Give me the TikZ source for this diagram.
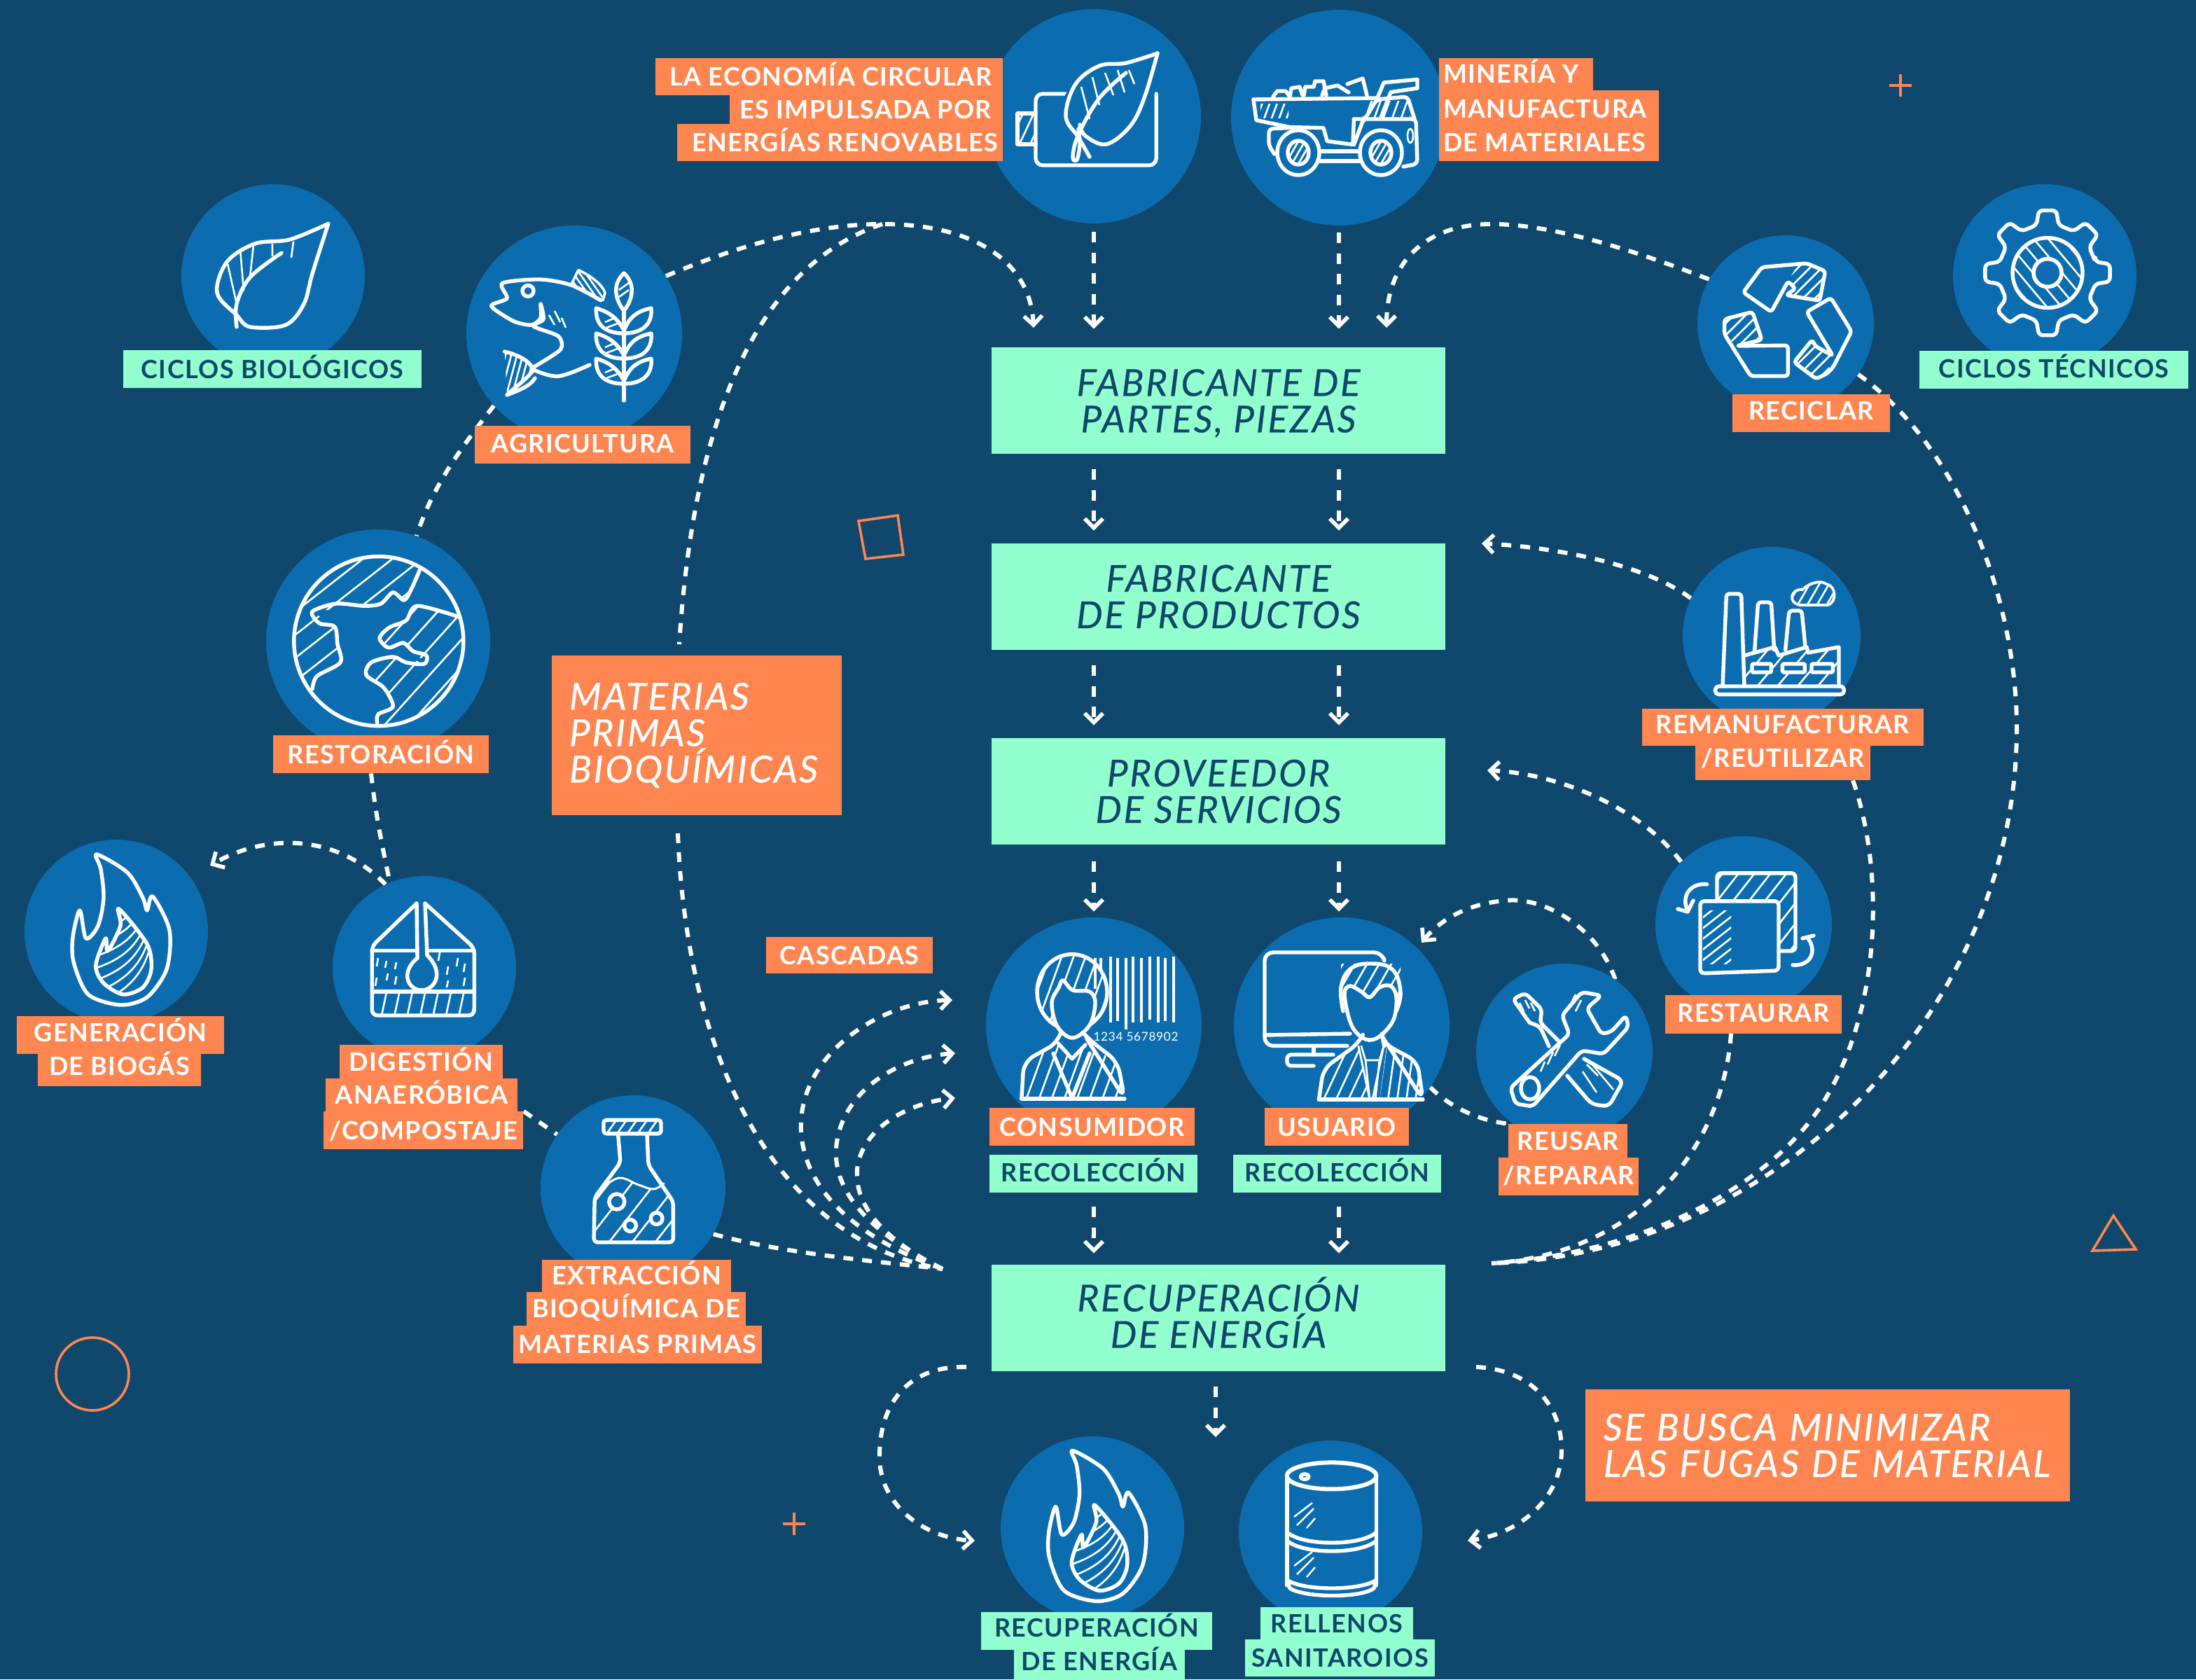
\documentclass[tikz,border=0pt]{standalone}
\usepackage{fontspec}
\usetikzlibrary{arrows.meta,calc}
\setmainfont{Lato}
\newfontfamily\labfont{Lato}[LetterSpace=4]
\newfontfamily\bigfont{Lato}[LetterSpace=5,ItalicFeatures={FakeBold=0.35}]
\definecolor{bgnavy}{HTML}{10476D}
\definecolor{blob}{HTML}{0B6DB0}
\definecolor{mint}{HTML}{92FFCF}
\definecolor{coral}{HTML}{FF8651}
\pgfdeclarelayer{bgl}\pgfdeclarelayer{conn}
\pgfsetlayers{bgl,conn,main}
\tikzset{
  blobnode/.style={circle,fill=blob,inner sep=0pt,minimum size=#1},
  olabel/.style={fill=coral,text=white,inner sep=0pt,text height=13pt,text depth=0pt,font=\labfont\bfseries\fontsize{18}{20}\selectfont},
  mlabel/.style={fill=mint,text=bgnavy,inner sep=0pt,text height=13pt,text depth=0pt,font=\labfont\bfseries\fontsize{18}{20}\selectfont},
  stagebox/.style={fill=mint,text=bgnavy,inner sep=0pt,minimum width=324,minimum height=76,align=center,font=\bigfont\itshape\fontsize{26.5}{26}\selectfont},
  notebox/.style={fill=coral,text=white,inner sep=0pt,align=left,font=\bigfont\itshape\fontsize{26.5}{26}\selectfont},
  flow/.style={white,line width=3,dash pattern=on 7pt off 6.5pt},
  flowtip/.style={flow,-{Straight Barb[length=6.5pt,width=13pt,line width=2.8pt]}},
  vflow/.style={white,line width=3,dash pattern=on 7.5pt off 7.2pt,-{Straight Barb[length=6.5pt,width=13pt,line width=2.8pt]}},
  ic/.style={white,line width=2.7,line join=round,line cap=round},
  hl/.style={white,line width=1.3},
  deco/.style={coral,line width=1.8},
}
\newcommand{\olab}[6]{\node[olabel,minimum width={#3-#2},minimum height={#5-#4}] (#1) at ({(#2+#3)/2},{(#4+#5)/2}) {#6};}
\newcommand{\mlab}[6]{\node[mlabel,minimum width={#3-#2},minimum height={#5-#4}] (#1) at ({(#2+#3)/2},{(#4+#5)/2}) {#6};}
\newcommand{\hatchin}[5]{\foreach \k in {-#5,...,#5}{\draw[hl,rotate around={#4:(#1,#2)}] ({#1-130},{#2+\k*#3}) -- ({#1+130},{#2+\k*#3});}}
\newcommand{\flameicon}[2]{%
\begin{scope}[shift={(#1,#2)}]
\draw[ic] plot[smooth cycle,tension=.5] coordinates {(69,610)(91,623)(102,641)(105,650)(109,640)(121,664)(119,692)(105,712)(86,717.5)(63,710)(52.6,687)(52,669)(57,650)(61.4,670)(70,661)(74,641)(72,620.6)};
\begin{scope}
\clip plot[smooth cycle,tension=.5] coordinates {(85,649)(105,674)(108,692)(102,705)(88,710)(74,702)(68.4,689.5)(75.4,670)(77,679)(86,661)};
\foreach \k in {0,9,...,54}{\draw[hl] ({60+\k*.1},{720-\k}) .. controls ({85+\k*.2},{712-\k}) and ({100},{700-\k}) .. ({106},{680-\k});}
\end{scope}
\draw[ic] plot[smooth cycle,tension=.5] coordinates {(85,649)(105,674)(108,692)(102,705)(88,710)(74,702)(68.4,689.5)(75.4,670)(77,679)(86,661)};
\end{scope}}
\begin{document}
\begin{tikzpicture}[x=1pt,y=-1pt]
\useasboundingbox (0,0) rectangle (1568,1199);
\begin{pgfonlayer}{bgl}
\fill[bgnavy] (0,0) rectangle (1568,1199);
\end{pgfonlayer}

% decorations
\draw[deco] (1349,61) -- (1365,61) (1357,53) -- (1357,69);
\draw[deco] (559,1088) -- (575,1088) (567,1080) -- (567,1096);
\draw[deco] (613,372) -- (641,368) -- (645,396) -- (618,399) -- cycle;
\draw[deco] (1494,893) -- (1509,868) -- (1525,892) -- cycle;
\draw[deco] (66,981) circle (26);

% circles
\node[blobnode=153] (renew) at (781,83) {};
\node[blobnode=154] (truck) at (956,84) {};
\node[blobnode=131] (bio) at (195,197) {};
\node[blobnode=154] (agri) at (410,238) {};
\node[blobnode=160] (rest) at (270,458) {};
\node[blobnode=131] (biog) at (83,665) {};
\node[blobnode=131] (dige) at (303,691) {};
\node[blobnode=132] (extr) at (452,848) {};
\node[blobnode=154] (cons) at (781,732) {};
\node[blobnode=154] (usua) at (958,732) {};
\node[blobnode=126] (reus) at (1117,751) {};
\node[blobnode=126] (rstr) at (1245,660) {};
\node[blobnode=127] (rema) at (1265,454) {};
\node[blobnode=126] (reci) at (1275,231) {};
\node[blobnode=131] (gear) at (1460,197) {};
\node[blobnode=131] (fire) at (780,1091) {};
\node[blobnode=131] (barr) at (950,1094) {};

% stage boxes
\node[stagebox] (fab) at (870,286) {\rule{0pt}{23pt}FABRICANTE DE\\PARTES, PIEZAS};
\node[stagebox] (prod) at (870,426) {FABRICANTE\\DE PRODUCTOS};
\node[stagebox] (serv) at (870,565) {PROVEEDOR\\DE SERVICIOS};
\node[stagebox] (recu) at (870,941) {RECUPERACIÓN\\DE ENERGÍA\rule[-8pt]{0pt}{8pt}};
\node[notebox,minimum width=207,minimum height=114,text width=182] (mat) at (497.5,525) {MATERIAS\\PRIMAS\\BIOQUÍMICAS};
\node[notebox,minimum width=346,minimum height=80,text width=320] (fuga) at (1305,1032) {SE BUSCA MINIMIZAR\\LAS FUGAS DE MATERIAL};

% labels
\olab{eco1}{468}{716}{41.5}{68}{\makebox[248pt][r]{LA ECONOMÍA CIRCULAR\hspace{8pt}}}
\olab{eco2}{521}{716}{68}{88.5}{\makebox[195pt][r]{ES IMPULSADA POR\hspace{8pt}}}
\olab{eco3}{483.5}{716}{88.5}{115}{\makebox[232pt][r]{ENERGÍAS RENOVABLES\hspace{3pt}}}
\olab{min1}{1027.5}{1137.6}{41.5}{64.5}{\makebox[110pt][l]{\hspace{3pt}MINERÍA Y}}
\olab{min2}{1027.5}{1184.5}{64.5}{88.5}{\raisebox{-1.5pt}{\makebox[157pt][l]{\hspace{3pt}MANUFACTURA}}}
\olab{min3}{1027.5}{1184.5}{88.5}{115}{\makebox[157pt][l]{\hspace{3pt}DE MATERIALES}}
\mlab{cbio}{88}{301}{250}{277}{CICLOS BIOLÓGICOS}
\olab{lagr}{339}{493}{304}{331}{\raisebox{1pt}{AGRICULTURA}}
\olab{lres}{195}{349}{525}{552}{RESTORACIÓN}
\olab{gen1}{12}{160}{725.5}{752.5}{\raisebox{2pt}{GENERACIÓN}}
\olab{gen2}{27}{143.5}{752.5}{775.5}{\raisebox{3pt}{DE BIOGÁS}}
\olab{dig1}{242.5}{359}{746}{770}{DIGESTIÓN}
\olab{dig2}{232.6}{369.5}{770}{793.6}{ANAERÓBICA}
\olab{dig3}{231}{373.7}{793.6}{820.4}{/COMPOSTAJE}
\olab{ext1}{387}{522}{899.4}{922.4}{EXTRACCIÓN}
\olab{ext2}{376}{532.6}{922.4}{946.4}{BIOQUÍMICA DE}
\olab{ext3}{366.7}{544}{946.4}{973.4}{MATERIAS PRIMAS}
\olab{casc}{547}{666}{669}{695}{CASCADAS}
\olab{lcon}{706.6}{853}{791}{818}{CONSUMIDOR}
\olab{lusu}{903}{1006}{791}{818}{USUARIO}
\mlab{rec1}{706.6}{855}{824.5}{851.5}{\raisebox{1pt}{RECOLECCIÓN}}
\mlab{rec2}{880.6}{1029}{824.5}{851.5}{\raisebox{1pt}{RECOLECCIÓN}}
\olab{reu1}{1077}{1162}{802.5}{826.5}{REUSAR}
\olab{reu2}{1070}{1170}{826.5}{853.5}{\raisebox{1pt}{/REPARAR}}
\olab{lrst}{1189}{1315}{710.7}{737.8}{\raisebox{1pt}{RESTAURAR}}
\olab{rem1}{1172.4}{1373.5}{505.8}{532.5}{\raisebox{2pt}{REMANUFACTURAR}}
\olab{rem2}{1210.5}{1335.6}{532.5}{557}{\raisebox{3.5pt}{/REUTILIZAR}}
\olab{lrec}{1237}{1349.5}{281.7}{308.4}{\raisebox{2pt}{RECICLAR}}
\mlab{ctec}{1370.5}{1562.5}{250.6}{277.7}{\raisebox{1pt}{CICLOS TÉCNICOS}}
\mlab{ene1}{700.4}{865.6}{1151}{1178}{\raisebox{2.5pt}{RECUPERACIÓN}}
\mlab{ene2}{724}{846}{1178}{1204}{\raisebox{5pt}{DE ENERGÍA}}
\mlab{rel1}{900}{1009}{1147.5}{1170.5}{RELLENOS}
\mlab{rel2}{889}{1024.4}{1170.5}{1197}{SANITAROIOS}

% connectors
\coordinate (xl) at (781,0);
\coordinate (xr) at (956,0);
\coordinate (xm) at (868,0);
\coordinate (hubL) at (673,906);
\coordinate (hubR) at (1065,902);
\coordinate (topL) at (630,160);
\coordinate (topR) at (1065,160);
\coordinate (tipA) at (738,234);
\coordinate (tipB) at (990,234);
\coordinate (tipP) at (1058,388);
\coordinate (tipS) at (1062,550);
\coordinate (tipU) at (1015,673);
\coordinate (tipG) at (150,618);
\coordinate (tipC1) at (680,714);
\coordinate (tipC2) at (682,752);
\coordinate (tipC3) at (682,784);
\coordinate (matT) at (485,460);
\coordinate (matB) at (484,595);
\coordinate (ene1Tip) at (696,1100);
\coordinate (ene2Tip) at (1048,1100);
\begin{pgfonlayer}{conn}
\draw[vflow,shorten <=6,shorten >=13] (renew.south) -- (fab.north -| xl);
\draw[vflow,shorten <=5,shorten >=13] (truck.south) -- (fab.north -| xr);
\draw[vflow,shorten <=11,shorten >=9] (fab.south -| xl) -- (prod.north -| xl);
\draw[vflow,shorten <=11,shorten >=9] (fab.south -| xr) -- (prod.north -| xr);
\draw[vflow,shorten <=11,shorten >=9] (prod.south -| xl) -- (serv.north -| xl);
\draw[vflow,shorten <=11,shorten >=9] (prod.south -| xr) -- (serv.north -| xr);
\draw[vflow,shorten <=12,shorten >=4] (serv.south -| xl) -- (cons.north);
\draw[vflow,shorten <=12,shorten >=4] (serv.south -| xr) -- (usua.north -| xr);
\draw[vflow,shorten <=10,shorten >=8] (rec1.south -| xl) -- (recu.north -| xl);
\draw[vflow,shorten <=10,shorten >=8] (rec2.south -| xr) -- (recu.north -| xr);
\draw[vflow,shorten <=11,shorten >=3] (recu.south -| xm) -- (868,1029);
\draw[flowtip] (agri.32) .. controls (540,170) and (590,160) .. (topL) .. controls (700,160) and (736,190) .. (tipA);
\draw[flow] (topL) .. controls (540,190) and (495,300) .. (matT);
\draw[flow] (matB) .. controls (490,750) and (550,885) .. (hubL);
\draw[flowtip] (reci.150) .. controls (1170,180) and (1110,160) .. (topR) .. controls (1015,160) and (990,190) .. (tipB);
\draw[flowtip] (rema.155) .. controls (1170,400) and (1100,390) .. (tipP);
\draw[flowtip] (rstr.135) .. controls (1170,575) and (1110,552) .. (tipS);
\draw[flowtip] (reus.55) .. controls (1140,660) and (1100,640) .. (1075,643) .. controls (1050,645) and (1030,655) .. (tipU);
\draw[flow] (usua.-35) .. controls (1035,790) and (1055,800) .. (reu1.north west);
\draw[flow] (reci.-35) .. controls (1400,320) and (1440,430) .. (1440,520) .. controls (1440,720) and (1270,895) .. (hubR);
\draw[flow] (rem2.south -| 1323,0) .. controls (1345,620) and (1345,720) .. (1300,790) .. controls (1260,850) and (1170,895) .. (hubR);
\draw[flow] (lrst.south -| 1236,0) .. controls (1230,820) and (1170,895) .. (hubR);
\draw[flow] (agri.-138) .. controls (325,325) and (308,350) .. (rest.70);
\draw[flow] (lres.south -| 265,0) .. controls (268,580) and (272,600) .. (dige.112);
\draw[flowtip] (dige.115) .. controls (240,595) and (190,595) .. (tipG);
\draw[flow] (dig3.north east) -- (extr.145);
\draw[flow] (extr.-30) .. controls (560,895) and (620,900) .. (hubL);
\draw[flowtip] (hubL) .. controls (600,880) and (570,840) .. (572,800) .. controls (575,750) and (630,715) .. (tipC1);
\draw[flowtip] (hubL) .. controls (620,880) and (595,850) .. (597,820) .. controls (600,780) and (640,755) .. (tipC2);
\draw[flowtip] (hubL) .. controls (630,885) and (610,860) .. (612,835) .. controls (615,805) and (650,787) .. (tipC3);
\draw[flowtip] (690,976) .. controls (650,975) and (628,1000) .. (628,1040) .. controls (628,1075) and (660,1098) .. (ene1Tip);
\draw[flowtip] (1054,976) .. controls (1095,978) and (1115,1005) .. (1115,1035) .. controls (1115,1070) and (1085,1095) .. (ene2Tip);
\end{pgfonlayer}

% --- icons ---
% renewable
\draw[ic,rounded corners=5] (761,67) -- (739.5,67) -- (739.5,118) -- (825.6,118) -- (825.6,67);
\draw[ic] (739.5,81) -- (726.5,81) -- (726.5,103) -- (739.5,103);
\begin{scope}\clip (726.5,81) rectangle (739.5,103); \hatchin{733}{92}{7}{65}{4} \end{scope}
\path[fill=blob] plot[smooth,tension=.6] coordinates {(826.5,38)(785,47)(761,67)(761,83)(770,98)(790,103)(809,90)(823,67)(826.5,38)};
\draw[ic] plot[smooth,tension=.6] coordinates {(826.5,38)(804,45)(785,47)(768,60)(761,83)(770,98)(778,112)};
\draw[ic] plot[smooth,tension=.6] coordinates {(771,89)(775,97)(790,103)(807,90)(817,70)(826.5,38)};
\draw[ic] plot[smooth,tension=.6] coordinates {(804,52)(785,70)(770,96)(766,112)(769,114)(771,103)(770,92)};
\draw[hl] (772,62) -- (778,85) (780,55) -- (785,75) (789,52) -- (795,68) (798,50) -- (803,66) (806,50) -- (810,60);
% truck
\draw[ic] (895,71) -- (983.5,70) -- (988,59) -- (1012,56.7) -- (1012,63) -- (993,65.8) -- (986,84);
\draw[ic] (895,71) -- (897,85.8) -- (921,90.8) -- (945,91.3) -- (947.6,100.8) -- (966.7,103.3) -- (974,84);
\draw[ic] (909,69) -- (912,65) -- (918,65) -- (921,69) (921,69) -- (922,63) -- (928,62) -- (930,68) (931,68) -- (932,62) -- (938,62) -- (939,58) -- (945,58) -- (946,63) -- (944,68) (947,68) -- (946,63) -- (955,61) -- (963,66) (962,60) -- (973,56) -- (976,68);
\draw[ic,rounded corners=3] (974,86) -- (983,71) -- (1005,69) -- (1010,85);
\draw[ic,rounded corners=3] (966.7,85) -- (1011,85) -- (1012,117) -- (1002,119);
\draw[ic] (966.7,85) -- (966,103);
\begin{scope}\clip (976,72) rectangle (1007,84); \hatchin{990}{78}{6}{70}{5} \end{scope}
\begin{scope}\clip (900,74) rectangle (920,84); \hatchin{910}{79}{5}{70}{5} \end{scope}
\draw[ic,rounded corners=3] (925,91) -- (906,92) -- (906,104) -- (910,110);
\draw[ic] (942,108) -- (971,108) (942,115) -- (971,115);
\foreach \c in {927,986}{
\draw[ic,fill=blob] (\c,109) ellipse (15 and 16);
\begin{scope}\clip (\c,109) ellipse (7.5 and 8.5); \hatchin{\c}{109}{4}{60}{4} \end{scope}
\draw[ic] (\c,109) ellipse (7.5 and 8.5);}
\draw[hl] (1007,97) ellipse (2 and 5);
% leaf bio
\draw[ic] plot[smooth,tension=.55] coordinates {(234.4,159.7)(207,171)(182,174)(162,187)(155,209)(169,225)(178.6,233.4)(204,232)(217,217)(223,195.5)(234.4,159.7)};
\draw[ic] plot[smooth,tension=.6] coordinates {(201,180.6)(178.6,198)(169,217)(169,233.4)};
\draw[hl,line width=1.3] (162.6,188.7) -- (169,217) (171.6,179) -- (174,207.6) (181,175) -- (178.6,197) (194.5,174) -- (194.5,183) (209.5,172.4) -- (208,184);
% fish
\draw[ic] plot[smooth,tension=.45] coordinates {(429,214.4)(408,203.6)(385.8,199.5)(358.7,202.2)(362,213)(350.8,218.5)(366.7,229.3)(379.5,232)(386,227)(386,217)(388,228)(381,233)(398.6,240)(400,249.7)(379.5,263)};
\draw[ic] (377,207.7) circle (4);
\draw[ic] (360.3,251) .. controls (372,254) and (378,258) .. (381,264) .. controls (375,272) and (368,276) .. (362,282) .. controls (372,278) and (378,276) .. (382,270);
\begin{scope}\clip (360.3,251) .. controls (372,254) and (378,258) .. (381,264) .. controls (375,272) and (368,276) .. (362,282) -- cycle; \hatchin{370}{266}{4}{75}{6} \end{scope}
\draw[ic] plot[smooth,tension=.6] coordinates {(381,264)(398.6,268.6)(421,260.5)};
\begin{scope}\clip (408,202) -- (413,192.8) .. controls (422,197) and (430,203) .. (432,209) -- (430.5,214.4) -- cycle; \hatchin{420}{204}{3.6}{-55}{6} \end{scope}
\draw[ic,line width=1.8] (408,203) -- (413,192.8) .. controls (422,197) and (430,203) .. (432,209) -- (430.5,214.4);
\draw[hl] (392,225) -- (396,232) (396,222) -- (400,230) (401,227) -- (404,234);
\draw[ic] (445.5,286) -- (445.5,222);
\draw[ic,fill=blob] (445.5,195) .. controls (438,202) and (438,212) .. (445.5,222) .. controls (453,212) and (453,202) .. (445.5,195) -- cycle;
\draw[hl] (442,212) -- (449,207) (442,207) -- (449,202);
\foreach \d in {0,18,36}{
\draw[ic] (445.5,{236+\d}) .. controls (440,{225+\d}) and (432,{222+\d}) .. (425.7,{220+\d}) .. controls (425,{232+\d}) and (432,{238+\d}) .. (445.5,{238+\d}) .. controls (458,{238+\d}) and (466,{232+\d}) .. (465,{220+\d}) .. controls (456,{222+\d}) and (450,{225+\d}) .. (445.5,{236+\d});
\draw[hl] (432,{230+\d}) -- (439,{227+\d}) (433,{234+\d}) -- (441,{231+\d});}
% globe
\begin{scope}
\clip (270.4,457.8) circle (60.5);
\begin{scope}\clip (205,380) -- (340,380) -- (299.7,407) -- (288.6,428.5) -- (280.6,423) -- (260,432.6) -- (223,436.7) -- (239,447.5) -- (242,472) -- (226.4,482.7) -- (223,492) -- (205,500) -- cycle;
\hatchin{270}{440}{13}{38}{9}\end{scope}
\begin{scope}\clip (328.4,440.7) -- (298,432.6) -- (284,445) -- (271,455.6) -- (277.4,462.4) -- (288.6,461) -- (304.5,473) -- (280.6,469) -- (261.5,478.6) -- (274,491) -- (280.6,504.4) -- (269.4,516.6) -- (340,520) -- (340,440) -- cycle;
\hatchin{300}{470}{13}{48}{8}\end{scope}
\end{scope}
\draw[ic] (270.4,457.8) circle (60.5);
\draw[ic] plot[smooth,tension=.5] coordinates {(299.7,407)(294,420)(288.6,428.5)(280.6,423)(272,431)(260,432.6)(240,431)(223,436.7)(228,445)(239,447.5)(241,460)(243,473)(226.4,482.7)(223,492)};
\draw[ic] plot[smooth,tension=.5] coordinates {(328.4,440.7)(298,432.6)(290,443)(278,448)(271,455.6)(277.4,462.4)(288,459)(295,465)(304.5,468)(303,474)(290,473)(280.6,469)(265,473)(261.5,482)(274,491)(280.6,504.4)(270,510)(269.4,516.6)};
% flames
\flameicon{0}{0}
\flameicon{696.8}{425.7}
% digest
\draw[ic,rounded corners=4] (297.5,645) -- (265.6,675.5) -- (265.6,725) -- (338.6,725) -- (338.6,676.7) -- (303.5,645);
\draw[ic] (265.6,678.8) -- (296,678.8) (307,678.8) -- (338.6,678.8);
\draw[ic] (265.6,708) -- (338.6,708);
\draw[ic] (297.5,645) -- (298,684);
\draw[ic] (303.5,645) -- (305,682);
\draw[ic] (298,684) .. controls (285,695) and (292,707) .. (301,707) .. controls (310,707) and (318,695) .. (305,682);
\begin{scope}\clip (265.6,708) rectangle (338.6,725); \hatchin{302}{716}{9}{78}{9} \end{scope}
\draw[hl] (270,684) -- (269,690) (276,686) -- (275,691) (283,687) -- (282,692) (269,698) -- (268,704) (277,695) -- (276,700) (283,697) -- (282,703) (314,680) -- (313,686) (327,684) -- (326,690) (332,688) -- (331,694) (320,690) -- (319,696) (320,700) -- (319,705) (332,698) -- (331,704);
% flask
\draw[ic,rounded corners=2] (431,799.7) rectangle (472,809.4);
\begin{scope}\clip (431,799.7) rectangle (472,809.4); \hatchin{451}{805}{6}{55}{5} \end{scope}
\draw[ic,rounded corners=3] (441.4,810.7) -- (443,830) -- (424.6,855) -- (424,887) -- (480.7,887) -- (480.7,858) -- (463,832) -- (462,810.7);
\draw[ic,line width=1.5] plot[smooth,tension=.6] coordinates {(429,849)(442,841)(456,846)(466.7,849)(474,845)};
\begin{scope}\clip (428,849) -- (442,841) -- (466.7,849) -- (474,845) -- (480.7,858) -- (480.7,887) -- (424,887) -- (424.6,855) -- cycle; \hatchin{452}{865}{13}{52}{5} \end{scope}
\draw[ic,fill=blob] (440.4,858) circle (5.5) (450,875) circle (4.2) (468.8,870) circle (4.2);
% consumer
\begin{scope}\clip (765.5,708.3) ellipse (25 and 27); \hatchin{766}{708}{8}{70}{6} \end{scope}
\draw[ic] (765.5,708.3) ellipse (25 and 27);
\draw[ic,fill=blob] plot[smooth cycle,tension=.6] coordinates {(751,716)(756,705)(759,700)(766,707)(778,708)(782,716)(778,732)(766,741)(755,733)};
\draw[ic,fill=blob,rounded corners=8] (729.4,784.5) -- (731,758) -- (756,744) -- (757.5,737) (773,737) -- (778.5,743) -- (798,758) -- (803,784.5) -- cycle;
\begin{scope}\clip (730,784) -- (731,758) -- (756,745) -- (765,756) -- (775,746) -- (798,758) -- (803,784) -- cycle; \hatchin{766}{768}{8.5}{70}{7} \end{scope}
\draw[ic] (729.4,784.5) -- (803,784.5);
\draw[ic] (755.7,745) -- (765.5,756) -- (775,746) (752,752) -- (765.5,784) -- (778,752);
\foreach \x/\a/\b in {782/684/706,786/684/692,793/683/730,798/684/729,804/684/735,809/683/730,815/684/730,821/683/728,827/683/730,832/684/729,838/683/730}{\draw[hl,line width=1.6] (\x,\a) -- (\x,\b);}
\node[text=white,inner sep=0pt,font=\labfont\fontsize{8.6}{9}\selectfont] (bar) at (811,740) {1234 5678902};
% user
\draw[ic,rounded corners=6] (988,684) -- (987,680) -- (903,680) -- (903,746.7) -- (962,746.7);
\draw[ic] (903,739) -- (964,738);
\draw[ic] (938,747.5) -- (938,753);
\draw[ic,rounded corners=3] (952,753) -- (919,753) -- (919,761) -- (938,761);
\begin{scope}\clip (957.5,688) rectangle (1000,712); \hatchin{978}{700}{7.5}{60}{6} \end{scope}
\draw[ic,fill=none] plot[smooth,tension=.7] coordinates {(959,722)(957.5,705)(964,692)(978,688)(994,692)(1000,708)(997,722)};
\draw[ic,fill=blob] plot[smooth cycle,tension=.6] coordinates {(960,710)(964,704)(972,708)(978,712)(985,705)(993,704)(997,712)(995,728)(985,740)(975,742)(965,732)};
\draw[ic,fill=blob,rounded corners=7] (941.7,785) -- (945,763) -- (970,745) -- (972,741) (987,740) -- (988,745) -- (1012,758) -- (1016,785) -- cycle;
\begin{scope}\clip (942,785) -- (945,763) -- (970,747) -- (978,785) -- cycle; \hatchin{960}{772}{8}{65}{5} \end{scope}
\begin{scope}\clip (985,785) -- (990,748) -- (1012,758) -- (1016,785) -- cycle; \hatchin{1000}{768}{6.5}{82}{5} \end{scope}
\draw[ic] (941.7,785) -- (1016,785);
\draw[ic,line width=1.4] (970,747) -- (978,785) (988,747) -- (980,785) (975,757) -- (985,757) (975,757) -- (972,747) (985,757) -- (988,747) (975,757) -- (978,785) (985,757) -- (982,785);
% tools
\draw[ic,rounded corners=3] (1092,730) -- (1080.3,713.3) -- (1089,709) -- (1101,720.8) -- (1099.6,730) -- (1113.6,744);
\draw[ic,rounded corners=3] (1092,730) -- (1099.6,733) -- (1106,747);
\draw[ic,rounded corners=4] (1131,756) -- (1159,771.7) -- (1148.7,790) -- (1136.4,788.3) -- (1119,768);
\draw[hl] (1085,716) -- (1088,722) (1089,714) -- (1092,720) (1093,716) -- (1096,722);
\draw[hl] (1133,760) -- (1141,768) (1130,765) -- (1140,780) (1137,760) -- (1152,778);
\draw[ic,rounded corners=3,fill=blob] (1078.5,776.7) -- (1120.6,738.3) -- (1115.3,725) -- (1129.4,708.3) -- (1143.4,710.8) -- (1133,720) -- (1143.4,738.3) -- (1150.4,736.7) -- (1161,725) -- (1162.7,733.3) -- (1145,752.5) -- (1129.4,750) -- (1094.3,790) -- (1082,788) -- cycle;
\draw[ic] (1092.5,777) ellipse (6.5 and 8);
\draw[hl] (1100,765) -- (1103,758) (1105,760) -- (1109,751) (1110,754) -- (1114,746) (1122,716) -- (1125,710) (1125,722) -- (1129,714);
% restore
\draw[ic,rounded corners=3] (1226,643) -- (1226,623.4) -- (1282,623.4) -- (1282,679) -- (1270,679);
\begin{scope}\clip (1226,623.4) -- (1282,623.4) -- (1282,679) -- (1270,679) -- (1270,643.4) -- (1226,643.4) -- cycle; \hatchin{1255}{650}{9}{52}{7} \end{scope}
\draw[ic,rounded corners=3] (1214,643.4) -- (1270,643.4) -- (1270,693) -- (1214,695) -- cycle;
\begin{scope}\clip (1216,650) rectangle (1236,688); \hatchin{1226}{670}{6}{38}{4} \end{scope}
\draw[ic] (1218.8,631.4) .. controls (1207,630) and (1200,640) .. (1205,650);
\draw[ic] (1198,649) -- (1205,651) -- (1209,643);
\draw[ic] (1280,689) .. controls (1292,690) and (1298,680) .. (1291,670);
\draw[ic] (1287,670) -- (1295,668);
% reman
\draw[ic,rounded corners=2] (1230,490) -- (1232.7,424) -- (1243.3,424) -- (1245.5,490);
\draw[ic,rounded corners=2] (1252.7,466) -- (1255.3,430) -- (1264.7,430) -- (1266.8,464);
\draw[ic,rounded corners=2] (1274.8,464) -- (1277.5,436) -- (1286.5,436) -- (1289,462);
\draw[ic] (1245.5,468) -- (1267.3,462) -- (1270,468) -- (1290,462) -- (1291,466) -- (1313,462) -- (1313,490);
\begin{scope}\clip (1245.5,468) -- (1267.3,462) -- (1270,468) -- (1290,462) -- (1291,466) -- (1313,462) -- (1313,490) -- (1245.5,490) -- cycle; \hatchin{1280}{477}{11}{50}{5} \end{scope}
\draw[ic,fill=blob,rounded corners=1] (1251,474) rectangle (1264.7,480) (1272.7,474) rectangle (1288.7,480) (1293.5,474) rectangle (1308.7,480);
\draw[ic,rounded corners=2.5] (1224.7,490) rectangle (1316.7,495.8);
\begin{scope}\clip (1285,432) .. controls (1276,430) and (1279,420) .. (1287,421) .. controls (1292,416) and (1300,414) .. (1304,417) .. controls (1311,418) and (1312,430) .. (1305,432) -- cycle; \hatchin{1295}{424}{6}{60}{4} \end{scope}
\draw[ic,line width=1.9] (1285,432) .. controls (1276,430) and (1279,420) .. (1287,421) .. controls (1292,416) and (1300,414) .. (1304,417) .. controls (1311,418) and (1312,430) .. (1305,432) -- cycle;
% recycle
\begin{scope}\clip (1276.7,200.8) -- (1284,188.5) -- (1303.3,193.6) -- (1299.3,214.7) -- (1275.3,210.7) -- (1282,206) -- cycle; \hatchin{1290}{202}{6}{45}{5} \end{scope}
\draw[ic,rounded corners=2] (1244.7,208.7) -- (1258,190.8) -- (1290,188) -- (1303.3,193.6) -- (1299.3,214.7) -- (1275.3,210.7) -- (1282,206) -- (1276.7,200.8) -- (1264.7,222.7) -- cycle;
\begin{scope}\clip (1281,258.6) -- (1294,242.6) -- (1296,247) -- (1308.7,254) -- (1304.7,266.6) -- (1296.7,270.5) -- cycle; \hatchin{1295}{257}{6}{45}{4} \end{scope}
\draw[ic,rounded corners=2] (1290,222.7) -- (1307.3,212.7) -- (1322,236.6) -- (1309,262) -- (1304.7,266.6) -- (1296.7,270.5) -- (1281,258.6) -- (1294,242.6) -- (1296,247) -- (1308.7,254) -- cycle;
\begin{scope}\clip (1231.3,227.9) -- (1251.3,222.7) -- (1258,242.6) -- (1240.7,247.8) -- (1231.3,238.6) -- cycle; \hatchin{1245}{235}{6}{45}{4} \end{scope}
\draw[ic,rounded corners=2] (1231.3,227.9) -- (1251.3,222.7) -- (1258,242.6) -- (1240,247) -- (1276.7,246.6) -- (1276.7,268.5) -- (1250,268.5) -- (1231.3,238.6) -- cycle;
% gear
\begin{scope}[shift={(1462,194.8)}]
\draw[ic,rounded corners=3] (-13:35) \foreach \a in {0,45,...,315}{ -- ({\a-13}:35) -- ({\a-8}:45) -- ({\a+8}:45) -- ({\a+13}:35) } -- cycle;
\begin{scope}\clip (0,0) circle (25); \hatchin{0}{0}{8}{-50}{5} \end{scope}
\draw[ic] (0,0) circle (25);
\draw[ic,fill=blob,line width=2.8] (0,0) circle (10);
\end{scope}
% barrel
\draw[ic] (919,1054) -- (919,1132) (982.7,1054) -- (982.7,1132);
\draw[ic,fill=blob,line width=3] (950.8,1053.7) ellipse (32 and 9.5);
\draw[ic] (931.6,1054.3) ellipse (3 and 1.8);
\draw[ic] (919,1094) .. controls (930,1104) and (972,1104) .. (982.7,1094) (919,1100) .. controls (930,1110) and (972,1110) .. (982.7,1100);
\draw[ic] (919,1094) -- (919,1100) (982.7,1094) -- (982.7,1100);
\draw[ic] (919,1128) .. controls (930,1136) and (972,1136) .. (982.7,1128) (919,1128) -- (921,1134) .. controls (932,1141) and (972,1141) .. (981,1134) -- (982.7,1128);
\draw[hl,line width=1.2] (924,1083) -- (937,1073) (926,1089) -- (938,1077) (933,1091) -- (939,1084) (924,1118) -- (937,1108) (926,1124) -- (938,1112) (933,1126) -- (939,1119);
\end{tikzpicture}
\end{document}
